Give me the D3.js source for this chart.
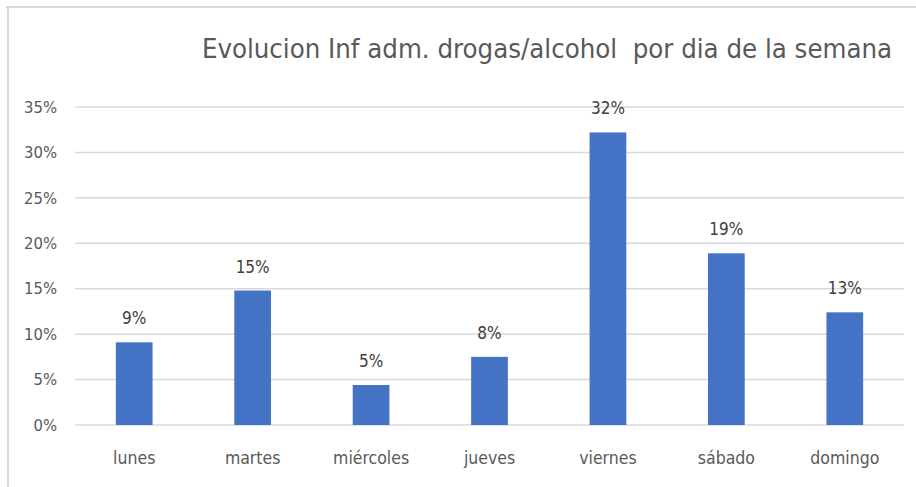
<!DOCTYPE html>
<html>
<head>
<meta charset="utf-8">
<script src="https://cdn.jsdelivr.net/npm/d3@7"></script>
<style>
  html, body { margin: 0; padding: 0; background: #fff; }
  svg { display: block; }
  text { font-family: "Liberation Sans Narrow", "Arial Narrow", "DejaVu Sans Condensed", sans-serif; }
</style>
</head>
<body>
<svg id="chart" width="916" height="487"></svg>
<script>
const title = "Evolucion Inf adm. drogas/alcohol  por dia de la semana";
const categories = ["lunes", "martes", "miércoles", "jueves", "viernes", "sábado", "domingo"];
const values = [0.091, 0.148, 0.044, 0.075, 0.322, 0.189, 0.124];
const valueLabels = ["9%", "15%", "5%", "8%", "32%", "19%", "13%"];
const yTicks = [0, 0.05, 0.10, 0.15, 0.20, 0.25, 0.30, 0.35];

const svg = d3.select("#chart");
const W = 916, H = 487;
const margin = { left: 75, right: 12, top: 107, bottom: 62 };
const plotW = W - margin.left - margin.right;
const plotH = H - margin.top - margin.bottom;

// outer border (top and left visible)
svg.append("line").attr("x1", 6).attr("x2", W).attr("y1", 7).attr("y2", 7)
  .attr("stroke", "#d9d9d9").attr("stroke-width", 2);
svg.append("line").attr("x1", 8).attr("x2", 8).attr("y1", 6).attr("y2", H)
  .attr("stroke", "#d9d9d9").attr("stroke-width", 2);

const x = d3.scaleBand().domain(categories).range([0, plotW]).paddingInner(0.69).paddingOuter(0.345);
const y = d3.scaleLinear().domain([0, 0.35]).range([plotH, 0]);

const g = svg.append("g").attr("transform", `translate(${margin.left},${margin.top})`);

// gridlines
g.append("g").selectAll("line").data(yTicks).join("line")
  .attr("x1", 0).attr("x2", plotW)
  .attr("y1", d => y(d)).attr("y2", d => y(d))
  .attr("stroke", "#d9d9d9").attr("stroke-width", 1.5);

// y axis
const yAxis = d3.axisLeft(y).tickValues(yTicks).tickFormat(d3.format(".0%")).tickSize(0).tickPadding(18);
const ya = g.append("g").call(yAxis);
ya.select(".domain").remove();
ya.selectAll("text").attr("fill", "#595959").style("font-size", "16.5px");

// x axis
const xAxis = d3.axisBottom(x).tickSize(0).tickPadding(27);
const xa = g.append("g").attr("transform", `translate(0,${plotH})`).call(xAxis);
xa.select(".domain").remove();
xa.selectAll("text").attr("fill", "#595959").style("font-size", "17.5px");

// bars
g.append("g").selectAll("rect").data(values).join("rect")
  .attr("x", (d, i) => x(categories[i]))
  .attr("width", x.bandwidth())
  .attr("y", d => y(d))
  .attr("height", d => plotH - y(d))
  .attr("fill", "#4472c4");

// value labels
g.append("g").selectAll("text").data(values).join("text")
  .attr("x", (d, i) => x(categories[i]) + x.bandwidth() / 2)
  .attr("y", d => y(d) - 18)
  .attr("text-anchor", "middle")
  .attr("fill", "#404040")
  .style("font-size", "17px")
  .text((d, i) => valueLabels[i]);

// title
svg.append("text")
  .attr("x", 547).attr("y", 58)
  .attr("text-anchor", "middle")
  .attr("fill", "#595959")
  .style("font-size", "27.3px")
  .style("white-space", "pre")
  .attr("xml:space", "preserve")
  .text(title);
</script>
</body>
</html>
